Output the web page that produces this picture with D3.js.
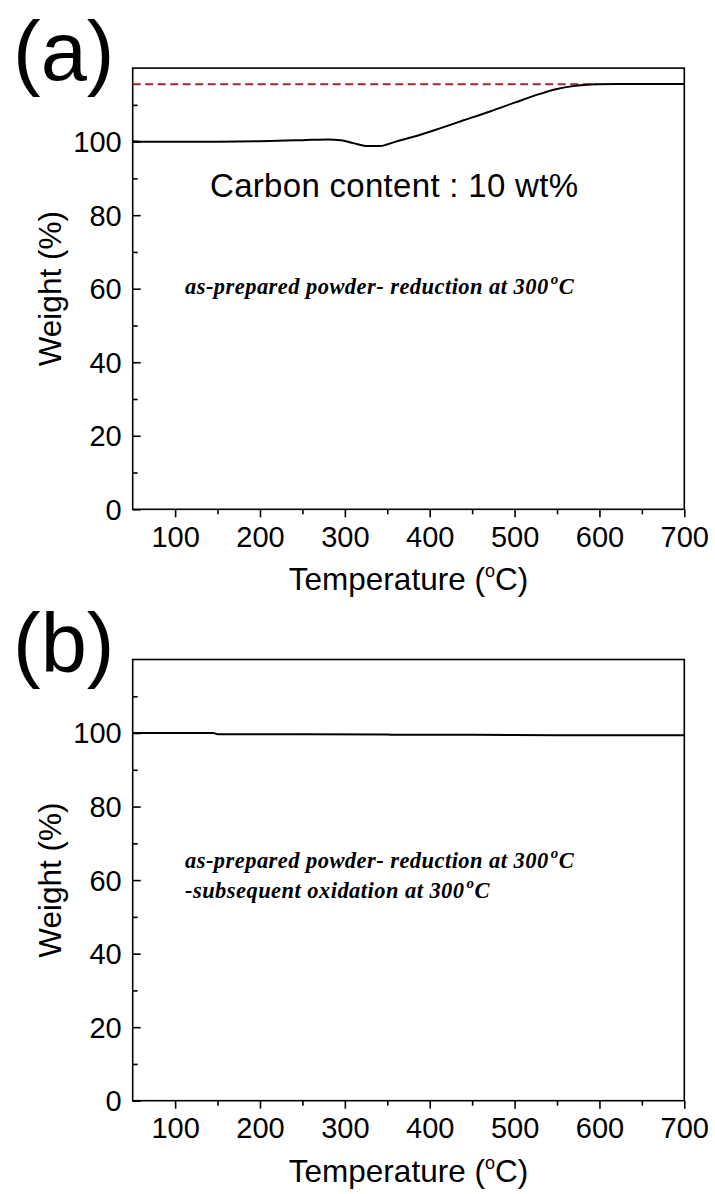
<!DOCTYPE html>
<html>
<head>
<meta charset="utf-8">
<script src="https://cdn.jsdelivr.net/npm/d3@7"></script>
<style>
  html, body { margin: 0; padding: 0; background: #fff; }
  svg { display: block; }
</style>
</head>
<body>
<svg id="chart" width="715" height="1194"></svg>
<script>
// ---- Data ----
const tempA   = [50, 60, 100, 150, 200, 250, 280, 295, 310, 326, 341, 360, 388, 412, 440, 471, 500, 530, 550, 569, 597, 621, 650, 700];
const weightA = [100.1, 100, 100, 100, 100.1, 100.4, 100.6, 100.4, 99.6, 98.8, 98.8, 100.0, 101.8, 103.6, 105.8, 108.2, 110.6, 113.0, 114.3, 115.1, 115.6, 115.7, 115.7, 115.7];
const tempB   = [50, 100, 145, 150, 250, 350, 360, 450, 550, 700];
const weightB = [100, 100, 100, 99.7, 99.7, 99.6, 99.5, 99.5, 99.4, 99.4];
const refLevelA = [115.6, 115.6];
const refTempA  = [50, 597];
const xMajor = [100, 200, 300, 400, 500, 600, 700];
const xMinor = [150, 250, 350, 450, 550, 650];
const yMajor = [0, 20, 40, 60, 80, 100];
const yMinor = [10, 30, 50, 70, 90, 110];
const panelLabels = ["(a)", "(b)"];
const noteA = "Carbon content : 10 wt%";
const italicA = ["as-prepared powder- reduction at 300"];
const italicB = ["as-prepared powder- reduction at 300", "-subsequent oxidation at 300"];

const svg = d3.select("#chart");
const SANS = "'Liberation Sans', Arial, sans-serif";
const SERIF = "'Liberation Serif', 'Times New Roman', serif";

function drawPanel(cfg) {
  const x = d3.scaleLinear().domain([50, 700]).range([132.7, 684.3]);
  const y = d3.scaleLinear().domain([0, 120]).range([cfg.bottom, cfg.bottom - 441.2]);
  const g = svg.append("g");

  // frame
  g.append("rect")
    .attr("x", x(50)).attr("y", y(120))
    .attr("width", x(700) - x(50)).attr("height", y(0) - y(120))
    .attr("fill", "none").attr("stroke", "#000").attr("stroke-width", 1.6);

  // x axis (ticks outward)
  const xa = g.append("g").attr("transform", `translate(0,${y(0)})`)
    .call(d3.axisBottom(x).tickValues(xMajor).tickSize(8).tickPadding(9).tickFormat(d3.format("d")));
  xa.select(".domain").remove();
  xa.selectAll("line").attr("stroke-width", 1.6);
  xa.selectAll("text").attr("font-family", SANS).attr("font-size", 29).attr("fill", "#000");
  const xm = g.append("g").attr("transform", `translate(0,${y(0)})`)
    .call(d3.axisBottom(x).tickValues(xMinor).tickSize(5).tickFormat(""));
  xm.select(".domain").remove();
  xm.selectAll("line").attr("stroke-width", 1.6);

  // y axis (ticks inward)
  const ya = g.append("g").attr("transform", `translate(${x(50)},0)`)
    .call(d3.axisRight(y).tickValues(yMajor).tickSize(8).tickFormat(""));
  ya.select(".domain").remove();
  ya.selectAll("line").attr("stroke-width", 1.6);
  const ym = g.append("g").attr("transform", `translate(${x(50)},0)`)
    .call(d3.axisRight(y).tickValues(yMinor).tickSize(5).tickFormat(""));
  ym.select(".domain").remove();
  ym.selectAll("line").attr("stroke-width", 1.6);
  g.selectAll(".ylab").data(yMajor).enter().append("text")
    .attr("x", x(50) - 11).attr("y", d => y(d)).attr("dy", "0.36em")
    .attr("text-anchor", "end").attr("font-family", SANS).attr("font-size", 29)
    .text(d => d);

  // axis titles
  const xt = g.append("text")
    .attr("x", (x(50) + x(700)) / 2).attr("y", y(0) + 81)
    .attr("text-anchor", "middle").attr("font-family", SANS).attr("font-size", 31.5);
  xt.append("tspan").text("Temperature (");
  xt.append("tspan").attr("font-size", 18).attr("dy", -13).text("o");
  xt.append("tspan").attr("dy", 13).text("C)");

  g.append("text")
    .attr("transform", `translate(61,${(y(0) + y(120)) / 2}) rotate(-90)`)
    .attr("text-anchor", "middle").attr("font-family", SANS).attr("font-size", 31.5)
    .text("Weight (%)");

  // panel label
  g.append("text").attr("x", 13).attr("y", cfg.labelY)
    .attr("font-family", SANS).attr("font-size", 83).text(cfg.label);

  // reference dashed line
  if (cfg.ref) {
    g.append("path")
      .datum(cfg.ref.t.map((t, i) => [t, cfg.ref.w[i]]))
      .attr("d", d3.line().x(d => x(d[0])).y(d => y(d[1])))
      .attr("fill", "none").attr("stroke", "#a8252d").attr("stroke-width", 2)
      .attr("stroke-dasharray", "8,4.5");
  }

  // data curve
  g.append("path")
    .datum(cfg.t.map((t, i) => [t, cfg.w[i]]))
    .attr("d", d3.line().x(d => x(d[0])).y(d => y(d[1])).curve(d3.curveMonotoneX))
    .attr("fill", "none").attr("stroke", "#000").attr("stroke-width", 2);

  // notes
  if (cfg.note) {
    g.append("text").attr("x", 210).attr("y", cfg.note.y)
      .attr("font-family", SANS).attr("font-size", 33).attr("letter-spacing", 0.3)
      .text(cfg.note.text);
  }
  cfg.italic.forEach((line, i) => {
    const t = g.append("text").attr("x", 185).attr("y", cfg.italicY[i])
      .attr("font-family", SERIF).attr("font-size", 22.5)
      .attr("font-style", "italic").attr("font-weight", "bold")
      .attr("letter-spacing", 0.45);
    t.append("tspan").text(line);
    t.append("tspan").attr("font-size", 15).attr("dy", -10).attr("dx", 2).text("o");
    t.append("tspan").attr("dy", 10).text("C");
  });
}

drawPanel({
  bottom: 509.3, label: panelLabels[0], labelY: 80,
  t: tempA, w: weightA,
  ref: { t: refTempA, w: refLevelA },
  note: { text: noteA, y: 197 },
  italic: italicA, italicY: [294]
});
drawPanel({
  bottom: 1100.7, label: panelLabels[1], labelY: 672,
  t: tempB, w: weightB,
  italic: italicB, italicY: [868, 898]
});
</script>
</body>
</html>
